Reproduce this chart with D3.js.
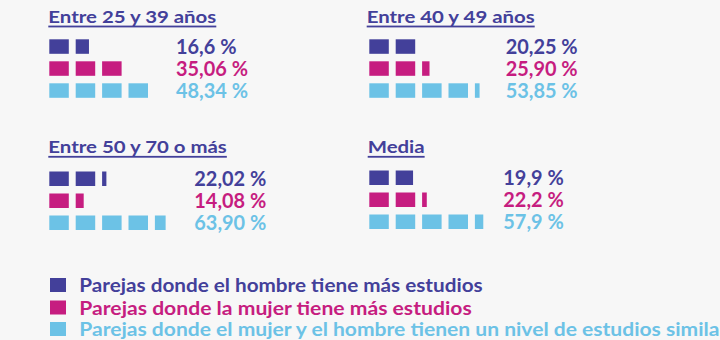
<!DOCTYPE html>
<html><head><meta charset="utf-8">
<script src="https://cdn.jsdelivr.net/npm/d3@7"></script>
<style>
html,body{margin:0;padding:0;background:#f7f7f7;}
svg{display:block;}
text{font-family:Lato,"Open Sans","Noto Sans",sans-serif;font-weight:700;}
</style></head>
<body>
<svg id="c" width="720" height="340"></svg>
<script>
// ---- data ----
const groups = ["Entre 25 y 39 años", "Entre 40 y 49 años", "Entre 50 y 70 o más", "Media"];
const seriesNames = [
  "Parejas donde el hombre tiene más estudios",
  "Parejas donde la mujer tiene más estudios",
  "Parejas donde el mujer y el hombre tienen un nivel de estudios similar"
];
const hombre  = [16.6, 20.25, 22.02, 19.9];
const mujer   = [35.06, 25.90, 14.08, 22.2];
const similar = [48.34, 53.85, 63.90, 57.9];
const hombreLabels  = ["16,6 %", "20,25 %", "22,02 %", "19,9 %"];
const mujerLabels   = ["35,06 %", "25,90 %", "14,08 %", "22,2 %"];
const similarLabels = ["48,34 %", "53,85 %", "63,90 %", "57,9 %"];
// number of pictogram squares drawn in each row
const hombreIcons  = [1.68, 2, 2.22, 1.89];
const mujerIcons   = [3, 2.38, 1.41, 2.24];
const similarIcons = [4, 4.24, 4.55, 4.43];

// ---- styles / layout ----
const colors = ["#43409a", "#c61d80", "#6cc2e6"];
const svg = d3.select("#c");
svg.append("rect").attr("width",720).attr("height",340).attr("fill","#f7f7f7");

const panels = [
  {sx:49.3, top:39.3, lx:176,   tx:48.3,  ty:23},
  {sx:369.3, top:39.3, lx:505.7, tx:366.7, ty:23},
  {sx:49.3, top:171.5, lx:194.3, tx:48.3,  ty:153.3},
  {sx:369.3, top:170.5, lx:503.3, tx:367.7, ty:153.3}
];
const pitch = 26.4, sqW = 19.5, sqH = 14.5, rowPitch = 22;
const unitX = d3.scaleLinear().domain([0,1]).range([0,pitch]);
const unitW = d3.scaleLinear().domain([0,1]).range([0,sqW]);

const rowsData = groups.map((g,i)=>({
  name:g,
  rows:[
    {v:hombre[i], icons:hombreIcons[i], label:hombreLabels[i], c:0},
    {v:mujer[i], icons:mujerIcons[i], label:mujerLabels[i], c:1},
    {v:similar[i], icons:similarIcons[i], label:similarLabels[i], c:2}
  ]
}));

function fit(sel, k){ sel.each(function(){ const w=this.getComputedTextLength(); d3.select(this).attr("textLength", w*k).attr("lengthAdjust","spacingAndGlyphs"); }); }

// titles
const titles = svg.selectAll("text.title").data(rowsData).join("text")
  .attr("class","title").attr("x",(d,i)=>panels[i].tx).attr("y",(d,i)=>panels[i].ty)
  .attr("font-size",17).attr("fill",colors[0]).text(d=>d.name);
const kT = 168 / titles.node().getComputedTextLength();
fit(titles, kT);
titles.each(function(d,i){
  const w = +d3.select(this).attr("textLength");
  svg.append("rect").attr("x",panels[i].tx).attr("y",panels[i].ty+2.6).attr("width",w).attr("height",1.8).attr("fill",colors[0]);
});

// pictogram rows
const allLabels = [];
rowsData.forEach((p,i)=>{
  const P = panels[i];
  const g = svg.append("g");
  p.rows.forEach((r,j)=>{
    const y = P.top + j*rowPitch;
    const n = Math.ceil(r.icons - 1e-9);
    const units = d3.range(n).map(k=>({k, frac:Math.min(1, r.icons - k)}));
    g.selectAll(null).data(units).join("rect")
      .attr("x",u=>P.sx + unitX(u.k)).attr("y",y)
      .attr("width",u=>unitW(u.frac)).attr("height",sqH)
      .attr("fill",colors[r.c]);
    const t = g.append("text").attr("x",P.lx).attr("y",y+14.6)
      .attr("font-size",20).attr("fill",colors[r.c]).text(r.label);
    allLabels.push(t.node());
  });
});
const kL = 72 / allLabels[1].getComputedTextLength();
fit(d3.selectAll(allLabels), kL);

// legend
const lg = svg.append("g");
const legY = [278, 300.5, 322];
const legW = [403.4, 392.4, 648];
lg.selectAll("rect").data(seriesNames).join("rect")
  .attr("x",50).attr("y",(d,i)=>legY[i]).attr("width",16).attr("height",14)
  .attr("fill",(d,i)=>colors[i]);
lg.selectAll("text").data(seriesNames).join("text")
  .attr("x",79.3).attr("y",(d,i)=>legY[i]+14)
  .attr("font-size",19).attr("fill",(d,i)=>colors[i]).text(d=>d)
  .attr("textLength",(d,i)=>legW[i]).attr("lengthAdjust","spacingAndGlyphs");
</script>
</body></html>
